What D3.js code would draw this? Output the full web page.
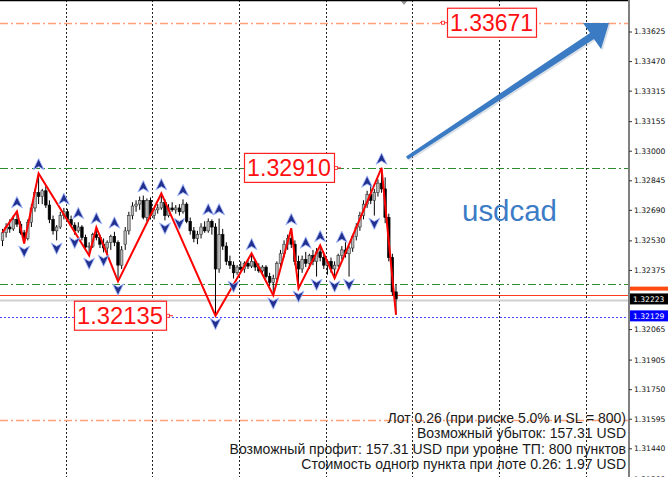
<!DOCTYPE html>
<html><head><meta charset="utf-8">
<script src="https://cdn.jsdelivr.net/npm/d3@7"></script>
<style>html,body{margin:0;padding:0;background:#fff;overflow:hidden}</style>
</head><body><svg id="c" width="670" height="477"></svg>
<script>
// ---- DATA ----
const opens  = [1.32530,1.32570,1.32600,1.32590,1.32640,1.32615,1.32570,1.32540,1.32625,1.32700,
                1.32780,1.32760,1.32790,1.32715,1.32640,1.32580,1.32600,1.32660,1.32680,1.32640,
                1.32610,1.32580,1.32600,1.32545,1.32495,1.32500,1.32560,1.32545,1.32510,1.32490,
                1.32520,1.32550,1.32520,1.32400,1.32510,1.32580,1.32660,1.32710,1.32720,1.32740,
                1.32650,1.32740,1.32660,1.32690,1.32700,1.32730,1.32660,1.32700,1.32690,1.32700,
                1.32680,1.32720,1.32630,1.32580,1.32540,1.32560,1.32600,1.32580,1.32630,1.32600,
                1.32380,1.32560,1.32500,1.32420,1.32400,1.32360,1.32390,1.32380,1.32410,1.32395,
                1.32420,1.32390,1.32370,1.32390,1.32340,1.32310,1.32330,1.32410,1.32460,1.32510,
                1.32540,1.32510,1.32420,1.32380,1.32430,1.32410,1.32450,1.32420,1.32470,1.32440,
                1.32400,1.32420,1.32380,1.32400,1.32450,1.32480,1.32460,1.32490,1.32550,1.32600,
                1.32660,1.32720,1.32770,1.32740,1.32780,1.32830,1.32800,1.32650,1.32440,1.32260];
const highs  = [1.32590,1.32620,1.32640,1.32660,1.32682,1.32630,1.32585,1.32640,1.32720,1.32800,
                1.32881,1.32800,1.32820,1.32740,1.32660,1.32610,1.32680,1.32700,1.32695,1.32660,
                1.32625,1.32625,1.32610,1.32560,1.32520,1.32570,1.32598,1.32560,1.32540,1.32530,
                1.32560,1.32575,1.32530,1.32500,1.32600,1.32680,1.32730,1.32740,1.32760,1.32765,
                1.32750,1.32755,1.32700,1.32720,1.32776,1.32745,1.32720,1.32730,1.32715,1.32720,
                1.32745,1.32730,1.32650,1.32600,1.32580,1.32620,1.32630,1.32645,1.32640,1.32620,
                1.32645,1.32590,1.32520,1.32450,1.32420,1.32400,1.32420,1.32420,1.32430,1.32462,
                1.32430,1.32410,1.32400,1.32400,1.32360,1.32350,1.32420,1.32480,1.32530,1.32560,
                1.32593,1.32530,1.32450,1.32450,1.32470,1.32460,1.32480,1.32490,1.32504,1.32460,
                1.32430,1.32440,1.32420,1.32460,1.32500,1.32520,1.32500,1.32560,1.32620,1.32680,
                1.32740,1.32790,1.32820,1.32800,1.32850,1.32910,1.32860,1.32670,1.32460,1.32300];
const lows   = [1.32500,1.32545,1.32570,1.32580,1.32600,1.32560,1.32514,1.32530,1.32600,1.32680,
                1.32720,1.32720,1.32700,1.32620,1.32560,1.32530,1.32590,1.32640,1.32630,1.32600,
                1.32560,1.32570,1.32530,1.32480,1.32451,1.32490,1.32530,1.32490,1.32467,1.32460,
                1.32480,1.32500,1.32315,1.32380,1.32480,1.32560,1.32640,1.32680,1.32690,1.32640,
                1.32630,1.32640,1.32640,1.32670,1.32690,1.32635,1.32650,1.32680,1.32670,1.32660,
                1.32670,1.32620,1.32560,1.32520,1.32510,1.32540,1.32570,1.32570,1.32560,1.32135,
                1.32360,1.32480,1.32400,1.32380,1.32330,1.32350,1.32370,1.32360,1.32380,1.32385,
                1.32370,1.32360,1.32350,1.32330,1.32290,1.32242,1.32320,1.32390,1.32440,1.32480,
                1.32490,1.32400,1.32278,1.32360,1.32390,1.32380,1.32400,1.32340,1.32420,1.32380,
                1.32350,1.32360,1.32331,1.32390,1.32430,1.32440,1.32340,1.32470,1.32530,1.32580,
                1.32640,1.32700,1.32720,1.32660,1.32760,1.32780,1.32620,1.32420,1.32240,1.32140];
const closes = [1.32570,1.32600,1.32590,1.32640,1.32615,1.32570,1.32540,1.32625,1.32700,1.32780,
                1.32760,1.32790,1.32715,1.32640,1.32580,1.32600,1.32660,1.32680,1.32640,1.32610,
                1.32580,1.32600,1.32545,1.32495,1.32500,1.32560,1.32545,1.32510,1.32490,1.32520,
                1.32550,1.32520,1.32400,1.32480,1.32580,1.32660,1.32710,1.32720,1.32740,1.32650,
                1.32740,1.32660,1.32690,1.32700,1.32730,1.32660,1.32700,1.32690,1.32700,1.32680,
                1.32720,1.32630,1.32580,1.32540,1.32560,1.32600,1.32580,1.32630,1.32600,1.32380,
                1.32560,1.32500,1.32420,1.32400,1.32360,1.32390,1.32380,1.32410,1.32395,1.32420,
                1.32390,1.32370,1.32390,1.32340,1.32310,1.32330,1.32410,1.32460,1.32510,1.32540,
                1.32510,1.32420,1.32380,1.32430,1.32410,1.32450,1.32420,1.32470,1.32440,1.32400,
                1.32420,1.32380,1.32400,1.32450,1.32480,1.32460,1.32490,1.32550,1.32600,1.32660,
                1.32720,1.32770,1.32740,1.32780,1.32830,1.32800,1.32650,1.32440,1.32260,1.32223];

const zigzagIdx    = [0,4,6,10,24,26,32,44,59,69,75,80,82,88,92,105,109];
const zigzagPrices = [1.32572,1.32682,1.32514,1.32881,1.32451,1.32598,1.32315,1.32776,1.32135,1.32462,1.32242,1.32593,1.32278,1.32504,1.32331,1.32910,1.32140];
const upFractals   = [4,10,17,21,26,31,39,44,50,57,60,69,80,84,88,94,101,105];
const downFractals = [6,15,20,24,28,32,45,49,59,64,75,82,87,92,96,103];
const daySeparators = [18,42,66,90,114,138,162];
const tickValues = [1.33625,1.33470,1.33315,1.33155,1.33000,1.32845,1.32690,1.32530,1.32375,1.32065,1.31905,1.31750,1.31595,1.31440,1.31280];

const tpLevel = 1.33671, highLevel = 1.32910, lowLevel = 1.32135;
const greenLevels = [1.32910, 1.32300];
const orangeLevels = [1.33671, 1.31587];
const redLevel = 1.32243, bidLevel = 1.32223, askLevel = 1.32129;
const symbol = "usdcad";
const infoLines = [
  "Лот 0.26 (при риске 5.0% и SL = 800)",
  "Возможный убыток: 157.31 USD",
  "Возможный профит: 157.31 USD при уровне ТП: 800 пунктов",
  "Стоимость одного пункта при лоте 0.26: 1.97 USD"
];

// ---- CHART ----
const W = 670, H = 477, plotR = 628;
const svg = d3.select("#c");
const x = d3.scaleLinear().domain([0, 173]).range([2.5, 2.5 + 173 * 3.61]);
const y = d3.scaleLinear().domain([1.33625, 1.31440]).range([31.5, 448.3]);
const fmt = d3.format(".5f");

const plot = svg.append("g");
plot.append("defs").append("clipPath").attr("id","cp").append("rect").attr("x",0).attr("y",0).attr("width",plotR).attr("height",H);
const g = plot.append("g").attr("clip-path","url(#cp)");

// day separators
g.selectAll(".sep").data(daySeparators).enter().append("line")
  .attr("x1", d => Math.round(x(d - 0.5)) + 0.5).attr("x2", d => Math.round(x(d - 0.5)) + 0.5)
  .attr("y1", 0).attr("y2", H).attr("stroke", "#222").attr("stroke-width", 1).attr("stroke-dasharray", "2,2");

// horizontal levels
const hline = (p, color, dash, w, off) => g.append("line").attr("x1",0).attr("x2",plotR)
  .attr("y1", Math.round(y(p))+0.5+(off||0)).attr("y2", Math.round(y(p))+0.5+(off||0))
  .attr("stroke", color).attr("stroke-width", w).attr("stroke-dasharray", dash);
orangeLevels.forEach(p => hline(p, "#ffa07a", "8,3,2,3", 1.4));
greenLevels.forEach(p => hline(p, "#2e8b2e", "8,3,2,3", 1));
hline(bidLevel, "#d0d0d0", null, 2, 1);
hline(redLevel, "#ff3b1a", null, 1);
hline(askLevel, "#4a4aff", "2,2", 1.2);

// candles
const bars = d3.range(opens.length).map(i => ({i, o:opens[i], h:highs[i], l:lows[i], c:closes[i]}));
const cg = g.append("g");
cg.selectAll(".wick").data(bars).enter().append("line")
  .attr("x1", d => x(d.i)).attr("x2", d => x(d.i))
  .attr("y1", d => y(d.h)).attr("y2", d => y(d.l))
  .attr("stroke", "#000").attr("stroke-width", 1);
cg.selectAll(".body").data(bars).enter().append("rect")
  .attr("x", d => x(d.i) - 1.3).attr("width", 2.6)
  .attr("y", d => y(Math.max(d.o, d.c)))
  .attr("height", d => Math.max(1, Math.abs(y(d.o) - y(d.c))))
  .attr("fill", d => d.c >= d.o ? "#b8b8b8" : "#000")
  .attr("stroke", d => d.c >= d.o ? "#333" : "#000").attr("stroke-width", 0.6);

// zigzag
g.append("path").datum(zigzagIdx.map((d, k) => [d, zigzagPrices[k]]))
  .attr("d", d3.line().x(d => x(d[0])).y(d => y(d[1])))
  .attr("fill", "none").attr("stroke", "#ff0000").attr("stroke-width", 2);

// fractal markers
const upPath = "M0,-6 L5.5,5.5 L0,2.2 L-5.5,5.5 Z";
const mk = (idxs, dir) => g.selectAll(null).data(idxs).enter().append("path")
  .attr("d", upPath)
  .attr("transform", i => dir > 0 ? `translate(${x(i)},${y(highs[i]) - 9})` : `translate(${x(i)},${y(lows[i]) + 8}) scale(1,-1)`)
  .attr("fill", "#22318f").attr("stroke", "#a8bcff").attr("stroke-width", 0.9);
mk(upFractals, 1);
mk(downFractals, -1);

// price labels
function priceLabel(p, bx, bw, side) {
  const cy = y(p);
  const lg = g.append("g");
  const connX = side === "left" ? bx - 7 : bx + bw + 7;
  lg.append("line").attr("x1", side === "left" ? connX : bx + bw).attr("x2", side === "left" ? bx : connX)
    .attr("y1", cy).attr("y2", cy).attr("stroke", "#ff2020").attr("stroke-width", 1);
  lg.append("rect").attr("x", (side === "left" ? bx - 4 : bx + bw + 2) - 1.5).attr("y", cy - 1.5).attr("width", 3).attr("height", 3)
    .attr("fill", "#fff").attr("stroke", "#ff2020").attr("stroke-width", 0.8);
  lg.append("rect").attr("x", bx + 0.5).attr("y", cy - 14.5).attr("width", bw).attr("height", 29)
    .attr("fill", "#fff").attr("stroke", "#ff2020").attr("stroke-width", 1.2);
  lg.append("text").attr("x", bx + bw / 2).attr("y", cy + 8.5).attr("text-anchor", "middle")
    .attr("font-family", "Liberation Sans, Arial, sans-serif").attr("font-size", 24.5)
    .attr("textLength", bw - 6).attr("lengthAdjust", "spacingAndGlyphs")
    .attr("fill", "#ff1010").text(fmt(p));
}
priceLabel(tpLevel, 447, 89, "left");
priceLabel(highLevel, 244, 90, "right");
priceLabel(lowLevel, 74, 92, "right");

// symbol
g.append("text").attr("x", 462).attr("y", 220.5).attr("font-family", "Liberation Sans, Arial, sans-serif")
  .attr("font-size", 30).attr("textLength", 95).attr("lengthAdjust","spacingAndGlyphs").attr("fill", "#3c7cc6").text(symbol);

// big arrow
(function(){
  const t0 = [407, 158], tip = [609, 23], c1 = [583, 23], c2 = [601, 49];
  const bm = [(c1[0]+c2[0])/2, (c1[1]+c2[1])/2];
  const dx = bm[0]-t0[0], dy = bm[1]-t0[1], L = Math.hypot(dx, dy);
  const nx = -dy/L, ny = dx/L;
  const w0 = 1.8, w1 = 3.6;
  const pts = [
    [t0[0]+nx*w0, t0[1]+ny*w0],
    [bm[0]+nx*w1, bm[1]+ny*w1],
    c2, tip, c1,
    [bm[0]-nx*w1, bm[1]-ny*w1],
    [t0[0]-nx*w0, t0[1]-ny*w0]
  ];
  g.append("path").attr("d", d3.line()(pts) + "Z").attr("fill", "#9ab").attr("opacity", 0.35).attr("transform","translate(1.5,1.5)");
  g.append("path").attr("d", d3.line()(pts) + "Z").attr("fill", "#3a7bc4");
})();

// shift marker
g.append("path").attr("d", "M400,0 L408,0 L404,5 Z").attr("fill", "#999");

// top border
svg.append("line").attr("x1", 0).attr("x2", plotR).attr("y1", 0.5).attr("y2", 0.5).attr("stroke", "#000").attr("stroke-width", 1.5);

// info text
const it = svg.append("g").attr("font-family", "Liberation Sans, Arial, sans-serif").attr("font-size", 14).attr("fill", "#1a1a1a").attr("text-anchor", "end");
it.selectAll("text").data(infoLines).enter().append("text")
  .attr("x", 626).attr("y", (d, k) => 423 + k * 15.3).text(d => d);

// right axis
const axis = svg.append("g").attr("transform", `translate(${plotR + 1},0)`)
  .call(d3.axisRight(y).tickValues(tickValues).tickFormat(fmt).tickSize(3).tickPadding(2));
axis.select(".domain").attr("stroke", "#808080").attr("stroke-width", 2).attr("d", `M0,0V${H}`);
axis.selectAll(".tick line").attr("stroke", "#333");
axis.selectAll(".tick text").attr("font-family", "DejaVu Sans, sans-serif").attr("font-size", 7.6).attr("fill", "#111");

// axis price boxes
function axisBox(p, bg, dy, h) {
  const cy = y(p) + dy;
  svg.append("rect").attr("x", plotR + 2).attr("y", cy - 5.5).attr("width", 38).attr("height", h || 11).attr("fill", bg);
  if (!h) svg.append("text").attr("x", plotR + 5).attr("y", cy + 3).attr("font-family", "DejaVu Sans, sans-serif")
    .attr("font-size", 7.6).attr("fill", "#fff").text(fmt(p));
}
axisBox(redLevel, "#ff4a10", -3, 4);
axisBox(bidLevel, "#000", 0);
axisBox(askLevel, "#0000ff", -1);
</script></body></html>
